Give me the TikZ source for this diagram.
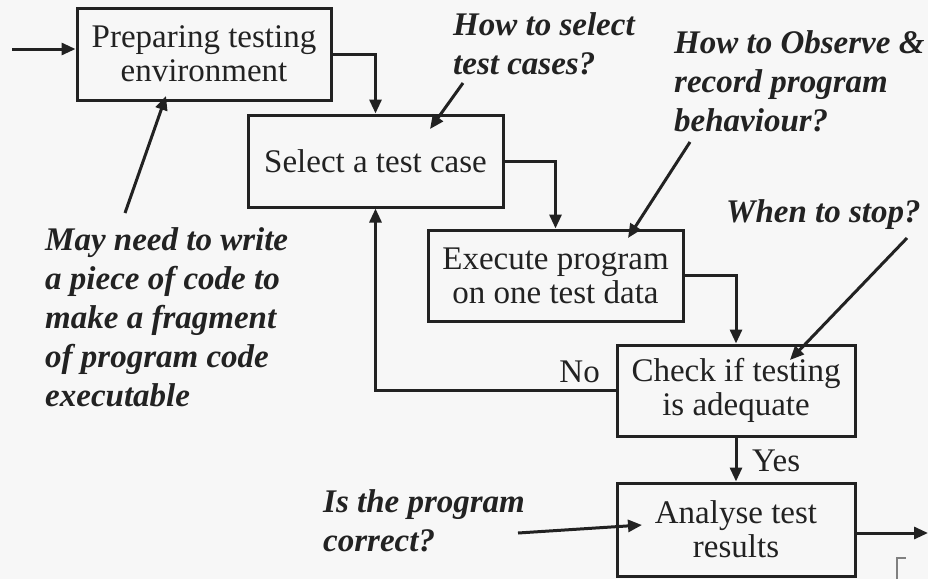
\documentclass[tikz,border=0pt]{standalone}
\usepackage{fontspec}
\setmainfont{Liberation Serif}
\usetikzlibrary{arrows.meta}
\definecolor{bg}{HTML}{F7F7F7}
\definecolor{ink}{HTML}{222222}
\begin{document}
\begin{tikzpicture}[x=1pt,y=-1pt,
  box/.style={draw=ink, line width=3pt, align=center, inner sep=0pt, text=ink,
              font=\fontsize{33}{34}\selectfont},
  arr/.style={draw=ink, line width=3pt, -{Triangle[length=14pt,width=12pt]}},
  note/.style={align=left, inner sep=0pt, anchor=north west, text=ink,
               font=\fontsize{33}{39}\selectfont\bfseries\itshape},
  lbl/.style={inner sep=0pt, text=ink, font=\fontsize{33}{34}\selectfont}]
\fill[bg] (0,0) rectangle (928,579);
\useasboundingbox (0,0) rectangle (928,579);

% boxes
\node[box, minimum width=254pt, minimum height=92pt] (prep) at (204,54) {Preparing testing\\environment};
\node[box, minimum width=255pt, minimum height=92pt] (sel) at (375.5,161) {Select a test case};
\node[box, minimum width=255pt, minimum height=91pt] (exec) at (555.5,275.5) {Execute program\\on one test data};
\node[box, minimum width=238pt, minimum height=91pt] (check) at (736,390.5) {Check if testing\\is adequate};
\node[box, minimum width=238pt, minimum height=93pt] (ana) at (736,529.5) {Analyse test\\results};

% flow connectors
\coordinate (in) at (12,49);
\coordinate (out) at (928,533);
\draw[arr] (in) -- (in -| prep.west);
\draw[arr] (prep.east) -| (sel.north);
\draw[arr] (sel.east) -| (exec.north);
\draw[arr] (exec.east) -| (check.north);
\draw[arr] (check.west) -| (sel.south);
\draw[arr] (check.south) -- (ana.north);
\draw[arr] (ana.east |- out) -- (out);
\node[lbl, anchor=base east] (no) at (600,382) {No};
\node[lbl, anchor=base west] (yes) at (752,471) {Yes};

% annotations
\node[note] (nsel) at (453,12) {How to select\\test cases?};
\node[note] (nobs) at (674,30) {How to Observe \&\\record program\\behaviour?};
\node[note] (nstop) at (726,199) {When to stop?};
\node[note] (nmay) at (45,227) {May need to write\\a piece of code to\\make a fragment\\of program code\\executable};
\node[note] (ncor) at (323,489) {Is the program\\correct?};

\coordinate (s1) at (463,83);   \coordinate (t1) at (430,129);
\coordinate (s2) at (690,142);  \coordinate (t2) at (628,238);
\coordinate (s3) at (907,238);  \coordinate (t3) at (790,360);
\coordinate (s4) at (125,213);  \coordinate (t4) at (166,96);
\coordinate (s5) at (518,533);  \coordinate (t5) at (642,525);
\draw[arr] (s1) -- (t1);
\draw[arr] (s2) -- (t2);
\draw[arr] (s3) -- (t3);
\draw[arr] (s4) -- (t4);
\draw[arr] (s5) -- (t5);

% small corner mark
\draw[gray, line width=1.5pt] (897,579) -- (897,558) -- (906,558);
\end{tikzpicture}
\end{document}
